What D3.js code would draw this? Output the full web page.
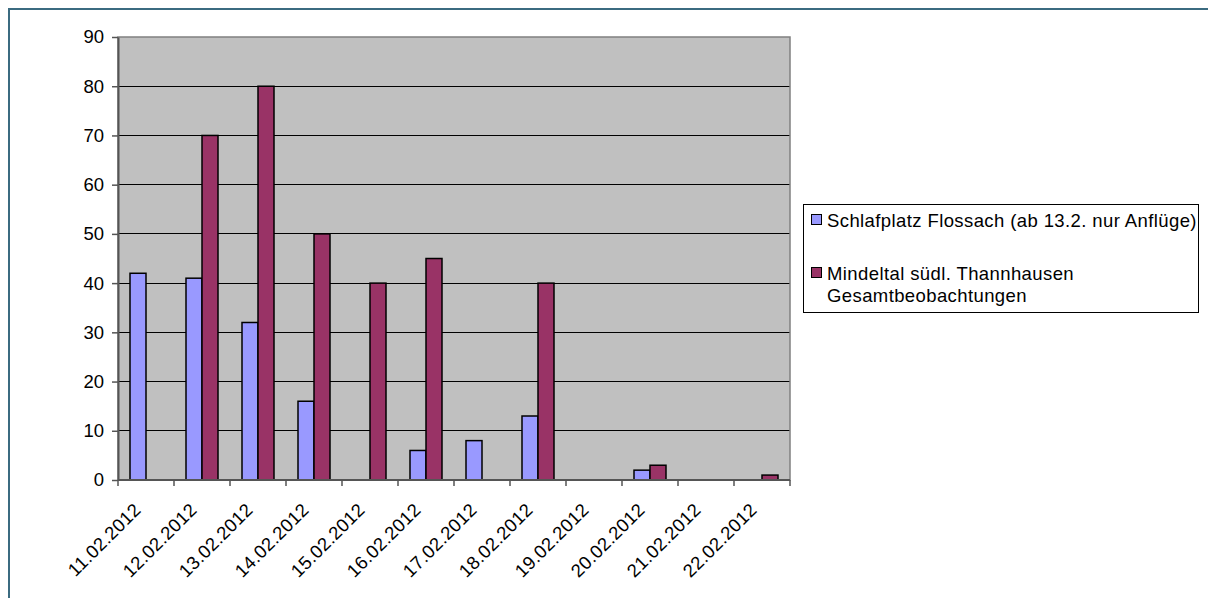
<!DOCTYPE html>
<html>
<head>
<meta charset="utf-8">
<script src="https://cdn.jsdelivr.net/npm/d3@7"></script>
<style>
  html, body { margin: 0; padding: 0; background: #fff; }
  svg { display: block; font-family: "Liberation Sans", Arial, sans-serif; }
</style>
</head>
<body>
<svg id="chart" width="1208" height="598"></svg>
<script>
// Daily counts for two observation sites
const dates = ["11.02.2012", "12.02.2012", "13.02.2012", "14.02.2012", "15.02.2012", "16.02.2012",
               "17.02.2012", "18.02.2012", "19.02.2012", "20.02.2012", "21.02.2012", "22.02.2012"];
const flossach = [42, 41, 32, 16, 0, 6, 8, 13, 0, 2, 0, 0];
const mindeltal = [0, 70, 80, 50, 40, 45, 0, 40, 0, 3, 0, 1];
const seriesNames = ["Schlafplatz Flossach (ab 13.2. nur Anflüge)", "Mindeltal südl. Thannhausen|Gesamtbeobachtungen"];
const seriesColors = ["#9999FF", "#993366"];
const yTicks = [0, 10, 20, 30, 40, 50, 60, 70, 80, 90];

const fontSize = 18.5;
const svg = d3.select("#chart");

// outer frame
svg.append("rect")
  .attr("x", 9).attr("y", 9)
  .attr("width", 1210).attr("height", 600)
  .attr("fill", "none")
  .attr("stroke", "#3B6B80")
  .attr("stroke-width", 2);

const plot = { left: 118, top: 37, right: 790, bottom: 480 };

const x = d3.scaleBand().domain(dates).range([plot.left, plot.right]).padding(0);
const y = d3.scaleLinear().domain([0, 90]).range([plot.bottom, plot.top]);

// plot background
svg.append("rect")
  .attr("x", plot.left).attr("y", plot.top)
  .attr("width", plot.right - plot.left).attr("height", plot.bottom - plot.top)
  .attr("fill", "#C0C0C0");

// horizontal gridlines
svg.append("g")
  .selectAll("line")
  .data(yTicks.filter(d => d > 0 && d < 90))
  .join("line")
  .attr("x1", plot.left).attr("x2", plot.right)
  .attr("y1", d => y(d)).attr("y2", d => y(d))
  .attr("stroke", "#000").attr("stroke-width", 1)
  .attr("shape-rendering", "crispEdges");

// bars: two per day, centred in each category
const data = dates.map((d, i) => ({ date: d, values: [flossach[i], mindeltal[i]] }));
const barW = 16;
const groups = svg.append("g").selectAll("g")
  .data(data)
  .join("g")
  .attr("transform", d => `translate(${x(d.date)},0)`);

groups.selectAll("rect")
  .data(d => d.values.map((v, k) => ({ v, k })).filter(e => e.v > 0))
  .join("rect")
  .attr("x", e => x.bandwidth() / 2 - barW + e.k * barW)
  .attr("y", e => y(e.v))
  .attr("width", barW)
  .attr("height", e => y(0) - y(e.v))
  .attr("fill", e => seriesColors[e.k])
  .attr("stroke", "#000")
  .attr("stroke-width", 1.5);

// plot border
svg.append("rect")
  .attr("x", plot.left).attr("y", plot.top)
  .attr("width", plot.right - plot.left).attr("height", plot.bottom - plot.top)
  .attr("fill", "none")
  .attr("stroke", "#808080")
  .attr("stroke-width", 1.5);

// y axis
const yAxis = d3.axisLeft(y).tickValues(yTicks).tickSize(6).tickPadding(8).tickSizeOuter(0);
const gy = svg.append("g").attr("transform", `translate(${plot.left},0)`).call(yAxis);
gy.select(".domain").attr("stroke", "#555").attr("stroke-width", 2);
gy.selectAll(".tick line").attr("stroke", "#555").attr("stroke-width", 1.5);
gy.selectAll(".tick text").attr("font-size", fontSize).attr("fill", "#000")
  .attr("font-family", "Liberation Sans, Arial, sans-serif");

// x axis: ticks at category boundaries
const boundaries = dates.map(d => x(d)).concat([plot.right]);
const gx = svg.append("g");
gx.append("line")
  .attr("x1", plot.left).attr("x2", plot.right)
  .attr("y1", plot.bottom).attr("y2", plot.bottom)
  .attr("stroke", "#555").attr("stroke-width", 2);
gx.selectAll("line.tk")
  .data(boundaries)
  .join("line")
  .attr("class", "tk")
  .attr("x1", d => d).attr("x2", d => d)
  .attr("y1", plot.bottom).attr("y2", plot.bottom + 6)
  .attr("stroke", "#555").attr("stroke-width", 1.5);

gx.selectAll("text")
  .data(dates)
  .join("text")
  .attr("transform", d => `translate(${x(d) + x.bandwidth() / 2 - 4},${plot.bottom + 31}) rotate(-45)`)
  .attr("text-anchor", "end")
  .attr("font-size", fontSize)
  .attr("letter-spacing", 0.3)
  .attr("fill", "#000")
  .text(d => d);

// legend
const lg = svg.append("g");
lg.append("rect")
  .attr("x", 803.5).attr("y", 204.5)
  .attr("width", 395).attr("height", 108)
  .attr("fill", "#fff")
  .attr("stroke", "#000")
  .attr("stroke-width", 1);

const legendRows = [227, 280];
seriesNames.forEach((name, i) => {
  lg.append("rect")
    .attr("x", 811.5).attr("y", legendRows[i] - 12.5)
    .attr("width", 10).attr("height", 10)
    .attr("fill", seriesColors[i])
    .attr("stroke", "#000")
    .attr("stroke-width", 1);
  name.split("|").forEach((line, j) => {
    lg.append("text")
      .attr("x", 827)
      .attr("y", legendRows[i] + j * 22)
      .attr("font-size", fontSize)
      .attr("letter-spacing", 0.4)
      .attr("fill", "#000")
      .text(line);
  });
});
</script>
</body>
</html>
